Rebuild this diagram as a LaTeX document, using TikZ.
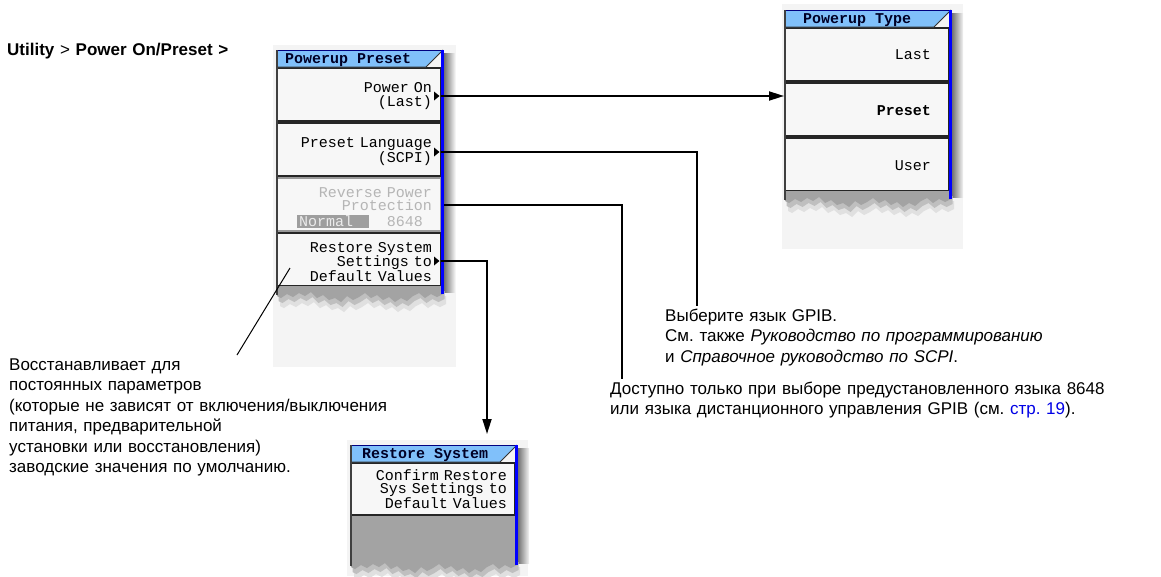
\documentclass[tikz,border=0pt]{standalone}
\usepackage{fontspec}
\setmainfont{Liberation Sans}
\newfontfamily\scrfont{Liberation Mono}
\usetikzlibrary{arrows.meta}
\frenchspacing
\definecolor{panelbg}{HTML}{F4F4F4}
\definecolor{btnfill}{HTML}{F7F7F7}
\definecolor{titleblue}{RGB}{128,192,250}
\definecolor{edgeblue}{RGB}{0,0,255}
\definecolor{tornfill}{HTML}{A3A3A3}
\definecolor{gapgrey}{HTML}{8A8A8A}
\definecolor{linkblue}{RGB}{0,0,230}
\definecolor{dimtext}{HTML}{B5B5B5}
\tikzset{
 conn/.style={line width=1.8pt, black},
 btn/.style={fill=btnfill, draw=black!85, line width=1.2pt},
 dimbtn/.style={fill=btnfill, draw=black!40, line width=1.2pt},
 scrtext/.style={font=\scrfont\fontsize{15}{13.8}\selectfont, inner sep=0pt, text width=160pt, align=right, anchor=base east},
 titletext/.style={font=\scrfont\bfseries\fontsize{15}{14}\selectfont, inner sep=0pt, anchor=base west, text=black!85!blue},
 body/.style={font=\fontsize{17}{20.5}\selectfont, inner sep=0pt, anchor=base west, align=left, text width=560pt},
 torn/.style={insert path={-- (166,0) -- (166,8) -- (160,11) -- (154,8) -- (148,12) -- (142,7) -- (136,10) -- (130,15) -- (124,12) -- (118,16) -- (112,11) -- (106,14) -- (100,9) -- (94,12) -- (88,7) -- (82,11) -- (76,14) -- (70,10) -- (64,16) -- (58,12) -- (52,14) -- (46,9) -- (40,12) -- (34,6) -- (28,10) -- (22,7) -- (16,11) -- (10,8) -- (4,12) -- (0,10) -- cycle}},
 pointer/.style={fill=black},
}
% #1 x, #2 y, #3 h, #4 body fill
\newcommand\panelback[4]{%
 \begin{scope}[shift={(#1,#2)}]
  \shade[left color=black!55, right color=panelbg] (167,3) rectangle (178,#3+6);
  \fill[#4] (0,17) rectangle (164,#3);
 \end{scope}}
% #1 x, #2 y, #3 h
\newcommand\panelfront[3]{%
 \begin{scope}[shift={(#1,#2)}]
  \begin{scope}[shift={(0,#3)}]
   \fill[black!12, shift={(3,10)}] (0,0) [torn];
   \fill[black!25, shift={(1.5,5)}] (0,0) [torn];
   \fill[tornfill] (0,0) [torn];
  \end{scope}
  \fill[titleblue] (0,0) -- (166,0) -- (149,17) -- (0,17) -- cycle;
  \draw[black!80, line width=0.9pt] (0,17) -- (149,17) -- (166,0);
  \draw[blue!50!black, line width=0.8pt] (0,0.4) -- (166,0.4);
  \draw[black!75, line width=1.2pt] (0,0) -- (0,#3+9);
  \draw[edgeblue, line width=3pt] (165.5,0) -- (165.5,#3+8);
 \end{scope}}
\begin{document}
\begin{tikzpicture}[x=1pt,y=-1pt]
\useasboundingbox (0,0) rectangle (1161,576);
\fill[white] (0,0) rectangle (1161,576);
% backgrounds
\fill[panelbg] (273,45) rectangle (456,367);
\fill[panelbg] (782,4) rectangle (963,249);
\fill[panelbg] (347,440) rectangle (528,576);
% ---------- panel 1 : Powerup Preset
\panelback{277}{50}{236}{gapgrey}
\begin{scope}[shift={(277,50)}]
 \draw[btn] (0,18) rectangle (164,71);
 \draw[btn] (0,73) rectangle (164,126);
 \draw[dimbtn] (0,128) rectangle (164,181);
 \draw[btn] (0,183) rectangle (164,236);
\end{scope}
\panelfront{277}{50}{236}
\node[titletext] (t1) at (285,63.5) {Powerup Preset};
\node[scrtext] (b11) at (432,92.7) {Power On\\(Last)};
\node[scrtext] (b12) at (432,147.7) {Preset Language\\(SCPI)};
\node[scrtext, text=dimtext] (b13) at (432,197) {Reverse Power\\Protection};
\fill[black!38] (297,215) rectangle (369,228);
\node[scrtext, anchor=base west, text width=, align=left, text=white!92!black] (b13n) at (299,226) {Normal};
\node[scrtext, text=dimtext] (b13v) at (423,226) {8648};
\node[scrtext] (b14) at (432,252) {Restore System\\Settings to\\Default Values};
\fill[pointer] (434,91.5) -- (439.5,96) -- (434,100.5) -- cycle;
\fill[pointer] (434,147.5) -- (439.5,152) -- (434,156.5) -- cycle;
\fill[pointer] (434,256.5) -- (439.5,261) -- (434,265.5) -- cycle;
% ---------- panel 2 : Powerup Type
\panelback{785}{10}{181}{gapgrey}
\begin{scope}[shift={(785,10)}]
 \draw[btn] (0,18) rectangle (164,71);
 \draw[btn] (0,73) rectangle (164,126);
 \draw[btn] (0,128) rectangle (164,181);
\end{scope}
\panelfront{785}{10}{181}
\node[titletext] (t2) at (803,23.5) {Powerup Type};
\node[scrtext] (b21) at (931,59) {Last};
\node[scrtext, font=\scrfont\bfseries\fontsize{15}{13.8}\selectfont] (b22) at (931,115) {Preset};
\node[scrtext] (b23) at (931,170) {User};
% ---------- panel 3 : Restore System
\panelback{351}{445}{112}{tornfill}
\begin{scope}[shift={(351,445)}]
 \draw[btn] (0,18) rectangle (164,70);
\end{scope}
\panelfront{351}{445}{112}
\node[titletext] (t3) at (362,458.5) {Restore System};
\node[scrtext] (b31) at (507,480) {Confirm Restore\\Sys Settings to\\Default Values};
% ---------- texts
\node[body] (nav) at (7,55) {\textbf{Utility} > \textbf{Power On/Preset >}};
\node[body] (restoreNote) at (9,370) {Восстанавливает для\\постоянных параметров\\(которые не зависят от включения/выключения\\питания, предварительной\\установки или восстановления)\\заводские значения по умолчанию.};
\node[body] (selNote) at (665,321) {Выберите язык GPIB.\\См. также \textit{Руководство по программированию}\\и \textit{Справочное руководство по SCPI}.};
\node[body] (availNote) at (610,394) {Доступно только при выборе предустановленного языка 8648\\или языка дистанционного управления GPIB (см. \textcolor{linkblue}{стр. 19}).};
% ---------- connectors
\coordinate (o1) at (441,96);
\coordinate (p2in) at (784,96);
\coordinate (o2) at (441,152);
\coordinate (e2) at (697,306);
\coordinate (o3) at (444,205);
\coordinate (e3) at (622,379);
\coordinate (o4) at (441,261);
\coordinate (p3in) at (487,434);
\coordinate (d1) at (290,268);
\coordinate (d2) at (237,355);
\draw[conn, -{Triangle[length=15pt,width=9pt]}] (o1) -- (p2in);
\draw[conn] (o2) -| (e2);
\draw[conn] (o3) -| (e3);
\draw[conn, -{Triangle[length=15pt,width=9pt]}] (o4) -| (p3in);
\draw[line width=1pt] (d1) -- (d2);
\end{tikzpicture}
\end{document}
